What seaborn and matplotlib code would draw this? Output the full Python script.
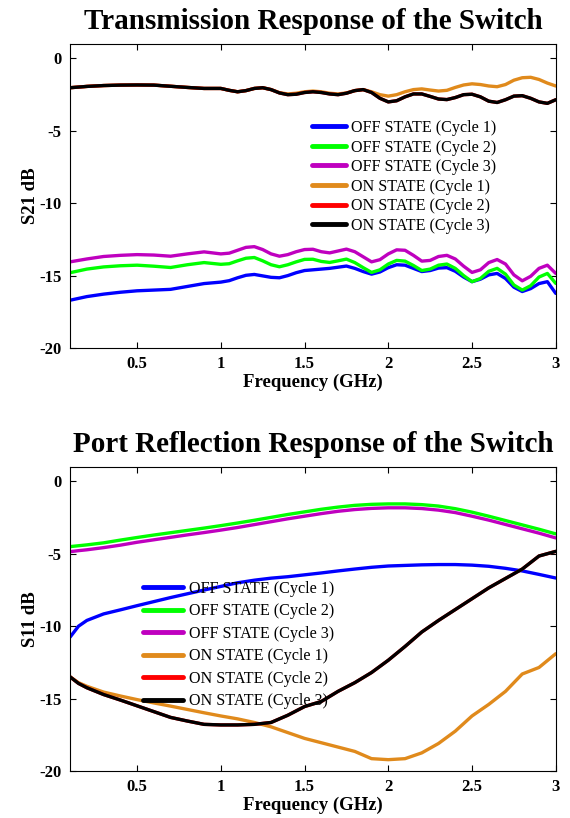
import pandas as pd
import matplotlib
matplotlib.use("Agg")
import matplotlib.pyplot as plt
import seaborn as sns

# Frequency grids (GHz)
freq_s21 = [0.1, 0.2, 0.3, 0.4, 0.5, 0.6, 0.7, 0.8, 0.9, 1.0,
            1.05, 1.1, 1.15, 1.2, 1.25, 1.3, 1.35, 1.4, 1.45, 1.5,
            1.55, 1.6, 1.65, 1.7, 1.75, 1.8, 1.85, 1.9, 1.95, 2.0,
            2.05, 2.1, 2.15, 2.2, 2.25, 2.3, 2.35, 2.4, 2.45, 2.5,
            2.55, 2.6, 2.65, 2.7, 2.75, 2.8, 2.85, 2.9, 2.95, 3.0]
freq_s11 = [0.1, 0.15, 0.2, 0.3, 0.4, 0.5, 0.6, 0.7, 0.8, 0.9, 1.0,
            1.1, 1.2, 1.3, 1.4, 1.5, 1.6, 1.7, 1.8, 1.9, 2.0,
            2.1, 2.2, 2.3, 2.4, 2.5, 2.6, 2.7, 2.8, 2.9, 3.0]

labels = ["OFF STATE (Cycle 1)", "OFF STATE (Cycle 2)", "OFF STATE (Cycle 3)",
          "ON STATE (Cycle 1)", "ON STATE (Cycle 2)", "ON STATE (Cycle 3)"]
colors = ["#0000ff", "#00ff00", "#bf00bf", "#e08a1c", "#ff0000", "#000000"]

# S21 (dB)
s21_off1 = [-16.7, -16.45, -16.28, -16.15, -16.05, -16.0, -15.95, -15.75, -15.55, -15.45,
            -15.35, -15.15, -14.98, -14.92, -15.02, -15.12, -15.15, -15.0, -14.8, -14.65,
            -14.6, -14.55, -14.5, -14.42, -14.34, -14.5, -14.72, -14.9, -14.75, -14.45,
            -14.25, -14.28, -14.5, -14.72, -14.65, -14.48, -14.45, -14.7, -15.1, -15.42,
            -15.25, -14.95, -14.85, -15.2, -15.8, -16.1, -15.9, -15.55, -15.42, -16.23]
s21_off2 = [-14.8, -14.55, -14.4, -14.32, -14.28, -14.35, -14.44, -14.25, -14.1, -14.22,
            -14.18, -13.98, -13.8, -13.75, -13.98, -14.25, -14.39, -14.25, -14.05, -13.88,
            -13.87, -14.02, -14.09, -13.98, -13.86, -14.1, -14.45, -14.78, -14.6, -14.2,
            -13.95, -14.0, -14.3, -14.65, -14.55, -14.28, -14.2, -14.5, -15.0, -15.42,
            -15.2, -14.7, -14.5, -14.9, -15.65, -16.0, -15.7, -15.1, -14.85, -15.54]
s21_off3 = [-14.05, -13.85, -13.68, -13.6, -13.55, -13.58, -13.66, -13.5, -13.36, -13.5,
            -13.45, -13.25, -13.05, -13.0, -13.2, -13.5, -13.66, -13.55, -13.35, -13.2,
            -13.18, -13.35, -13.43, -13.3, -13.17, -13.35, -13.7, -14.05, -13.9, -13.5,
            -13.22, -13.25, -13.6, -14.0, -13.95, -13.68, -13.6, -13.85, -14.35, -14.78,
            -14.6, -14.1, -13.89, -14.2, -14.95, -15.36, -15.05, -14.5, -14.28, -14.85]
s21_on1 = [-2.02, -1.93, -1.87, -1.84, -1.83, -1.84, -1.92, -2.0, -2.07, -2.07,
           -2.2, -2.3, -2.22, -2.07, -2.02, -2.15, -2.36, -2.45, -2.4, -2.3,
           -2.25, -2.3, -2.4, -2.45, -2.38, -2.22, -2.15, -2.3, -2.5, -2.6,
           -2.5, -2.3, -2.15, -2.1, -2.18, -2.25, -2.2, -2.0, -1.83, -1.75,
           -1.8, -1.9, -1.95, -1.8, -1.5, -1.33, -1.3, -1.45, -1.7, -1.9]
s21_on2 = [-2.02, -1.93, -1.87, -1.84, -1.83, -1.84, -1.92, -2.0, -2.07, -2.07,
           -2.2, -2.3, -2.22, -2.07, -2.02, -2.15, -2.38, -2.5, -2.47, -2.35,
           -2.3, -2.35, -2.45, -2.5, -2.4, -2.22, -2.15, -2.35, -2.75, -3.0,
           -2.92, -2.65, -2.45, -2.45, -2.62, -2.8, -2.84, -2.7, -2.5, -2.47,
           -2.65, -2.95, -3.04, -2.85, -2.6, -2.57, -2.75, -3.0, -3.1, -2.85]
s21_on3 = [-2.02, -1.93, -1.87, -1.84, -1.83, -1.84, -1.92, -2.0, -2.07, -2.07,
           -2.2, -2.3, -2.22, -2.07, -2.02, -2.15, -2.38, -2.5, -2.47, -2.35,
           -2.3, -2.35, -2.45, -2.5, -2.4, -2.22, -2.15, -2.35, -2.75, -3.0,
           -2.92, -2.65, -2.45, -2.45, -2.62, -2.8, -2.84, -2.7, -2.5, -2.47,
           -2.65, -2.95, -3.04, -2.85, -2.6, -2.57, -2.75, -3.0, -3.1, -2.85]

# S11 (dB)
s11_off1 = [-10.75, -10.0, -9.6, -9.15, -8.87, -8.58, -8.3, -8.02, -7.76, -7.5, -7.25,
            -7.0, -6.82, -6.68, -6.58, -6.45, -6.32, -6.18, -6.05, -5.93, -5.84,
            -5.8, -5.76, -5.74, -5.74, -5.78, -5.86, -6.0, -6.18, -6.42, -6.67]
s11_off2 = [-4.5, -4.44, -4.38, -4.24, -4.05, -3.87, -3.7, -3.54, -3.38, -3.22, -3.05,
            -2.87, -2.68, -2.48, -2.28, -2.1, -1.92, -1.77, -1.65, -1.58, -1.55,
            -1.55, -1.6, -1.7, -1.88, -2.12, -2.4, -2.7, -3.0, -3.3, -3.62]
s11_off3 = [-4.85, -4.78, -4.72, -4.57, -4.4, -4.2, -4.03, -3.86, -3.69, -3.53, -3.36,
            -3.18, -2.98, -2.78, -2.58, -2.4, -2.22, -2.06, -1.94, -1.86, -1.82,
            -1.82, -1.87, -1.98, -2.15, -2.4, -2.67, -2.97, -3.27, -3.57, -3.9]
s11_on1 = [-13.5, -13.9, -14.15, -14.55, -14.82, -15.07, -15.3, -15.52, -15.75, -15.98, -16.2,
           -16.4, -16.65, -16.95, -17.35, -17.75, -18.05, -18.35, -18.65, -19.15, -19.22,
           -19.15, -18.75, -18.1, -17.25, -16.2, -15.4, -14.5, -13.3, -12.85, -11.9]
s11_on2 = [-13.5, -13.95, -14.25, -14.72, -15.1, -15.5, -15.9, -16.3, -16.55, -16.78, -16.82,
           -16.82, -16.78, -16.65, -16.15, -15.55, -15.2, -14.5, -13.9, -13.2, -12.35,
           -11.4, -10.4, -9.6, -8.85, -8.1, -7.35, -6.7, -6.05, -5.15, -4.83]
s11_on3 = [-13.5, -13.95, -14.25, -14.72, -15.1, -15.5, -15.9, -16.3, -16.55, -16.78, -16.82,
           -16.82, -16.78, -16.65, -16.15, -15.55, -15.2, -14.5, -13.9, -13.2, -12.35,
           -11.4, -10.4, -9.6, -8.85, -8.1, -7.35, -6.7, -6.05, -5.15, -4.83]


def long_df(freq, series):
    parts = []
    for lab, vals in zip(labels, series):
        parts.append(pd.DataFrame({"freq": freq, "db": vals, "state": lab}))
    return pd.concat(parts, ignore_index=True)


df21 = long_df(freq_s21, [s21_off1, s21_off2, s21_off3, s21_on1, s21_on2, s21_on3])
df11 = long_df(freq_s11, [s11_off1, s11_off2, s11_off3, s11_on1, s11_on2, s11_on3])

sns.set_theme(style="white")
plt.rcParams["font.family"] = ["Liberation Serif", "DejaVu Serif"]
plt.rcParams["text.color"] = "black"
plt.rcParams["axes.labelcolor"] = "black"
plt.rcParams["axes.unicode_minus"] = False

fig = plt.figure(figsize=(5.7, 8.18), dpi=100)
ax1 = fig.add_axes([0.123, 0.5746, 0.852, 0.3716])
ax2 = fig.add_axes([0.123, 0.0575, 0.852, 0.3716])


def style_axis(ax, df, title, ylab, leg_anchor, spacing, hlen):
    sns.lineplot(data=df, x="freq", y="db", hue="state", hue_order=labels,
                 palette=colors, linewidth=2.4, sort=False, ax=ax)
    ax.set_xlim(0.1, 3.0)
    ax.set_ylim(-20, 1)
    ax.set_xticks([0.5, 1, 1.5, 2, 2.5, 3])
    ax.set_xticklabels(["0.5", "1", "1.5", "2", "2.5", "3"])
    ax.set_yticks([-20, -15, -10, -5, 0])
    ax.tick_params(direction="in", length=4, width=0.8, top=True, right=True,
                   bottom=True, left=True, labelsize=12, colors="black", pad=6)
    for lab in ax.get_xticklabels() + ax.get_yticklabels():
        lab.set_fontweight("bold")
    for sp in ax.spines.values():
        sp.set_color("black")
        sp.set_linewidth(0.8)
    ax.set_title(title, fontsize=21, fontweight="bold", pad=10.5, color="black")
    ax.set_xlabel("Frequency (GHz)", fontsize=13.5, fontweight="bold", labelpad=1)
    ax.set_ylabel(ylab, fontsize=13.5, fontweight="bold", labelpad=0)
    handles, labs = ax.get_legend_handles_labels()
    leg = ax.legend(handles, labs, loc="upper left", bbox_to_anchor=leg_anchor,
                    frameon=False, fontsize=11.6, handlelength=hlen, handletextpad=0.35,
                    labelspacing=spacing, borderpad=0, borderaxespad=0)
    for ln in leg.get_lines():
        ln.set_linewidth(3.5)


style_axis(ax1, df21, "Transmission Response of the Switch", "S21 dB", (0.498, 0.75), 0.22, 2.1)
style_axis(ax2, df11, "Port Reflection Response of the Switch", "S11 dB", (0.150, 0.625), 0.40, 2.5)

fig.savefig("out.png", dpi=100)
